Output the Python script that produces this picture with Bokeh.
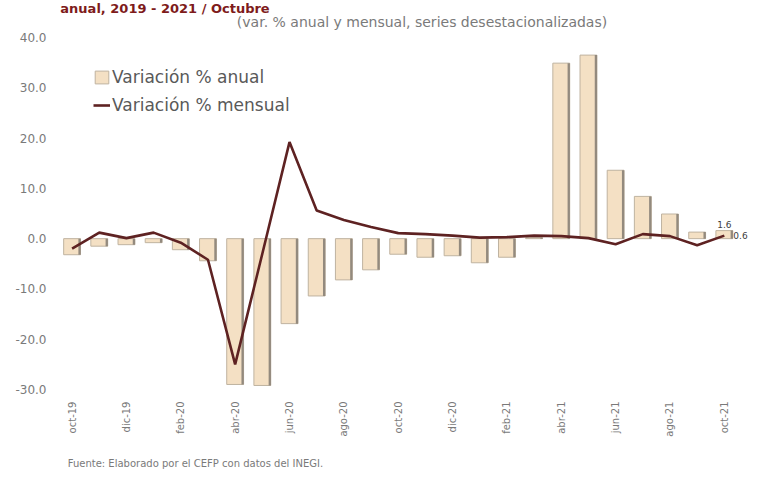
from bokeh.plotting import figure
from bokeh.layouts import column
from bokeh.models import (ColumnDataSource, Range1d, FixedTicker, NumeralTickFormatter,
                          Legend, LegendItem)
from bokeh.transform import dodge
from bokeh.embed import file_html
from bokeh.resources import INLINE
from bokeh.core.properties import value

# ---------------- data ----------------
months = ["oct-19", "nov-19", "dic-19", "ene-20", "feb-20", "mar-20", "abr-20", "may-20",
          "jun-20", "jul-20", "ago-20", "sep-20", "oct-20", "nov-20", "dic-20", "ene-21",
          "feb-21", "mar-21", "abr-21", "may-21", "jun-21", "jul-21", "ago-21", "sep-21",
          "oct-21"]
annual = [-3.2, -1.5, -1.2, -0.8, -2.2, -4.4, -29.0, -29.2, -16.9, -11.4, -8.2, -6.2,
          -3.1, -3.7, -3.4, -4.8, -3.7, 0.2, 34.9, 36.5, 13.6, 8.4, 4.9, 1.3, 1.6]
monthly = [-2.0, 1.2, 0.1, 1.2, -0.8, -4.2, -25.0, -3.0, 19.2, 5.6, 3.7, 2.3,
           1.1, 0.9, 0.6, 0.2, 0.3, 0.6, 0.5, 0.1, -1.1, 0.9, 0.5, -1.3, 0.6]
y_ticks = [-30, -20, -10, 0, 10, 20, 30, 40]
label_every = 2

title_text = "anual, 2019 - 2021 / Octubre"
subtitle_text = "(var. % anual y mensual, series desestacionalizadas)"
source_text = "Fuente: Elaborado por el CEFP con datos del INEGI."
legend_labels = ["Variación % anual", "Variación % mensual"]

FONT = "DejaVu Sans"
GREY = "#7a7a7a"
W = 753
HEAD_H, MAIN_H, FOOT_H = 30, 425, 16


def text_strip(h):
    f = figure(width=W, height=h, output_backend="svg", toolbar_location=None,
               x_range=Range1d(0, W), y_range=Range1d(h, 0), min_border=0)
    f.axis.visible = False
    f.grid.visible = False
    f.outline_line_color = None
    f.background_fill_color = "white"
    f.border_fill_color = "white"
    return f


# ---------------- header ----------------
head = text_strip(HEAD_H)
head.text(x=[2], y=[0], text=[title_text], text_font=value(FONT), text_font_style="bold",
          text_font_size="13px", text_color="#7e1b1b", text_align="left", text_baseline="top")
head.text(x=[395], y=[13], text=[subtitle_text], text_font=value(FONT),
          text_font_size="14px", text_color=GREY, text_align="center", text_baseline="top")

# ---------------- main chart ----------------
idx = list(range(len(months)))
src = ColumnDataSource(dict(x=idx, annual=annual, monthly=monthly))

p = figure(width=W, height=MAIN_H, output_backend="svg", toolbar_location=None,
           x_range=Range1d(-0.5, 25.0), y_range=Range1d(y_ticks[0], y_ticks[-1]),
           min_border_left=58, min_border_right=2, min_border_top=7, min_border_bottom=66)
p.background_fill_color = "white"
p.border_fill_color = "white"
p.outline_line_color = None
p.xgrid.visible = False
p.ygrid.visible = False

bars = p.vbar(x="x", top="annual", bottom=0, width=0.62, source=src,
              fill_color="#f4e0c4", line_color="#bfb3a0", line_width=1)
p.vbar(x=dodge("x", 0.275, range=p.x_range), top="annual", bottom=0, width=0.085, source=src,
       fill_color="#938a7e", line_color=None)

line = p.line(x="x", y="monthly", source=src, line_color="#5e2222", line_width=2.6)

last = len(months) - 1
p.text(x=[last], y=[annual[last]], text=[f"{annual[last]:.1f}"], text_align="center",
       text_baseline="bottom", y_offset=-3, text_font_size="9px", text_color="#404040",
       text_font=value(FONT))
p.text(x=[last], y=[monthly[last]], text=[f"{monthly[last]:.1f}"], text_align="left",
       text_baseline="middle", x_offset=9, text_font_size="9px", text_color="#404040",
       text_font=value(FONT))

p.yaxis.ticker = FixedTicker(ticks=y_ticks)
p.yaxis.formatter = NumeralTickFormatter(format="0.0")
p.xaxis.ticker = FixedTicker(ticks=idx[::label_every])
p.xaxis.major_label_overrides = {i: months[i] for i in idx[::label_every]}
p.xaxis.major_label_orientation = 3.14159265 / 2
for ax in (p.xaxis[0], p.yaxis[0]):
    ax.axis_line_color = None
    ax.major_tick_line_color = None
    ax.minor_tick_line_color = None
    ax.major_label_text_color = GREY
    ax.major_label_text_font = FONT
p.yaxis.major_label_text_font_size = "12px"
p.xaxis.major_label_text_font_size = "10px"
p.yaxis.major_label_standoff = 6
p.xaxis.major_label_standoff = 6

legend = Legend(items=[LegendItem(label=legend_labels[0], renderers=[bars]),
                       LegendItem(label=legend_labels[1], renderers=[line])],
                location=(35, 274), label_text_font=FONT, label_text_font_size="17px",
                label_text_color="#595959", glyph_width=17, glyph_height=16, label_height=16,
                spacing=8, padding=0, margin=0, label_standoff=2, border_line_color=None,
                background_fill_alpha=0)
p.add_layout(legend)

# ---------------- footer ----------------
foot = text_strip(FOOT_H)
foot.text(x=[10], y=[FOOT_H / 2], text=[source_text], text_font=value(FONT),
          text_font_size="10px", text_color=GREY, text_align="left", text_baseline="middle")

layout = column(head, p, foot, spacing=0)
open("out.html", "w").write(file_html(layout, INLINE))
